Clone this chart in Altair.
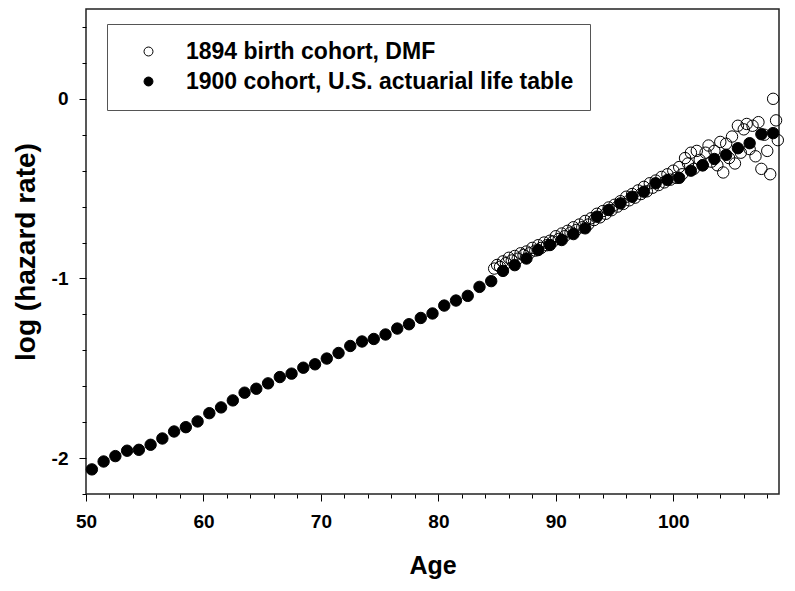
import altair as alt
import pandas as pd

FONT = "Liberation Sans, Arial, Helvetica, sans-serif"
DMF_LABEL = "1894 birth cohort, DMF"
TABLE_LABEL = "1900 cohort, U.S. actuarial life table"

# 1900 cohort, U.S. actuarial life table (filled circles)
table_age = [50.5, 51.5, 52.5, 53.5, 54.5, 55.5, 56.5, 57.5, 58.5, 59.5,
             60.5, 61.5, 62.5, 63.5, 64.5, 65.5, 66.5, 67.5, 68.5, 69.5,
             70.5, 71.5, 72.5, 73.5, 74.5, 75.5, 76.5, 77.5, 78.5, 79.5,
             80.5, 81.5, 82.5, 83.5, 84.5, 85.5, 86.5, 87.5, 88.5, 89.5,
             90.5, 91.5, 92.5, 93.5, 94.5, 95.5, 96.5, 97.5, 98.5, 99.5,
             100.5, 101.5, 102.5, 103.5, 104.5, 105.5, 106.5, 107.5, 108.5]
table_log_hazard = [-2.063, -2.019, -1.989, -1.959, -1.954, -1.926, -1.891, -1.852, -1.828, -1.796,
                    -1.750, -1.718, -1.679, -1.636, -1.614, -1.584, -1.549, -1.530, -1.497, -1.478,
                    -1.446, -1.415, -1.376, -1.351, -1.337, -1.312, -1.279, -1.255, -1.220, -1.195,
                    -1.151, -1.123, -1.097, -1.047, -1.015, -0.958, -0.926, -0.889, -0.842, -0.814,
                    -0.786, -0.753, -0.721, -0.656, -0.619, -0.582, -0.545, -0.517, -0.470, -0.452,
                    -0.440, -0.400, -0.370, -0.335, -0.312, -0.275, -0.247, -0.197, -0.191]

# 1894 birth cohort, DMF (open circles)
dmf_age = [84.75, 85.0, 85.25, 85.5, 85.75, 86.0, 86.25, 86.5, 86.75, 87.0,
           87.25, 87.5, 87.75, 88.0, 88.25, 88.5, 88.75, 89.0, 89.25, 89.5,
           89.75, 90.0, 90.25, 90.5, 90.75, 91.0, 91.25, 91.5, 91.75, 92.0,
           92.25, 92.5, 92.75, 93.0, 93.25, 93.5, 93.75, 94.0, 94.25, 94.5,
           94.75, 95.0, 95.25, 95.5, 95.75, 96.0, 96.25, 96.5, 96.75, 97.0,
           97.25, 97.5, 97.75, 98.0, 98.25, 98.5, 98.75, 99.0, 99.25, 99.5,
           99.75, 100.0, 100.25, 100.5, 100.75, 101.0, 101.25, 101.5, 101.75, 102.0,
           102.25, 102.5, 102.75, 103.0, 103.25, 103.5, 103.75, 104.0, 104.25, 104.5,
           104.75, 105.0, 105.25, 105.5, 105.75, 106.0, 106.25, 106.5, 106.75, 107.0,
           107.25, 107.5, 107.75, 108.0, 108.25, 108.5, 108.75, 108.9]
dmf_log_hazard = [-0.945, -0.925, -0.935, -0.905, -0.915, -0.885, -0.900, -0.875, -0.890, -0.860,
                  -0.870, -0.850, -0.860, -0.830, -0.845, -0.815, -0.830, -0.800, -0.815, -0.790,
                  -0.795, -0.765, -0.780, -0.750, -0.765, -0.735, -0.745, -0.715, -0.730, -0.700,
                  -0.715, -0.680, -0.700, -0.665, -0.675, -0.640, -0.660, -0.625, -0.640, -0.605,
                  -0.620, -0.590, -0.600, -0.570, -0.585, -0.545, -0.565, -0.530, -0.550, -0.510,
                  -0.530, -0.490, -0.515, -0.470, -0.495, -0.455, -0.480, -0.435, -0.465, -0.420,
                  -0.450, -0.400, -0.440, -0.380, -0.420, -0.330, -0.360, -0.300, -0.390, -0.290,
                  -0.340, -0.370, -0.300, -0.260, -0.350, -0.290, -0.370, -0.240, -0.410, -0.250,
                  -0.330, -0.210, -0.360, -0.150, -0.300, -0.170, -0.140, -0.280, -0.150, -0.320,
                  -0.130, -0.390, -0.200, -0.290, -0.420, 0.000, -0.120, -0.230]

x_ticks = [50, 52, 54, 56, 58, 60, 62, 64, 66, 68, 70, 72, 74, 76, 78, 80,
           82, 84, 86, 88, 90, 92, 94, 96, 98, 100, 102, 104, 106, 108]
y_ticks = [-2.2, -2.0, -1.8, -1.6, -1.4, -1.2, -1.0, -0.8, -0.6, -0.4,
           -0.2, 0.0, 0.2, 0.4]

df = pd.concat([
    pd.DataFrame({"age": dmf_age, "lh": dmf_log_hazard, "series": DMF_LABEL}),
    pd.DataFrame({"age": table_age, "lh": table_log_hazard, "series": TABLE_LABEL}),
], ignore_index=True)

x_major = "datum.value % 10 === 0"
y_major = "abs(datum.value - round(datum.value)) < 0.001"

chart = alt.Chart(df).mark_point(
    filled=True, shape="circle", size=130, stroke="black", strokeWidth=1, opacity=1
).encode(
    x=alt.X("age:Q",
            scale=alt.Scale(domain=[50, 109], nice=False, zero=False),
            axis=alt.Axis(title="Age", values=x_ticks,
                          labelExpr=f"{x_major} ? datum.label : ''",
                          tickSize={"condition": {"test": x_major, "value": 7}, "value": 4},
                          labelOverlap=False, labelFlush=False, labelPadding=11,
                          titlePadding=22, titleFontSize=25)),
    y=alt.Y("lh:Q",
            scale=alt.Scale(domain=[-2.2, 0.5], nice=False, zero=False),
            axis=alt.Axis(title="log (hazard rate)", values=y_ticks,
                          labelExpr=f"{y_major} ? '' + round(datum.value) : ''",
                          tickSize={"condition": {"test": y_major, "value": 7}, "value": 4},
                          labelOverlap=False, labelFlush=False, labelPadding=11,
                          titlePadding=11, titleFontSize=28)),
    fill=alt.Fill("series:N",
                  scale=alt.Scale(domain=[DMF_LABEL, TABLE_LABEL], range=["transparent", "black"]),
                  legend=alt.Legend(title=None, orient="none", legendX=21, legendY=15,
                                    padding=16, strokeColor="#555555",
                                    fillColor="white",
                                    labelFont=FONT, labelFontSize=23, labelFontWeight="bold",
                                    labelColor="black", labelLimit=0,
                                    symbolType="circle", symbolSize=80,
                                    symbolStrokeWidth=1, symbolStrokeColor="black",
                                    symbolOffset=14, labelOffset=26, rowPadding=6)),
).properties(
    width=693, height=485,
    autosize=alt.AutoSizeParams(type="none"),
    padding={"left": 78, "top": 1, "right": 8, "bottom": 90},
).configure_view(
    stroke="#222222", strokeWidth=1.5
).configure_axis(
    grid=False, domain=False,
    tickColor="black", tickWidth=1,
    labelFont=FONT, labelFontSize=19, labelFontWeight="bold", labelColor="black",
    titleFont=FONT, titleFontWeight="bold", titleColor="black",
)

chart.save("out.html", embed_options={"renderer": "svg", "actions": False})
